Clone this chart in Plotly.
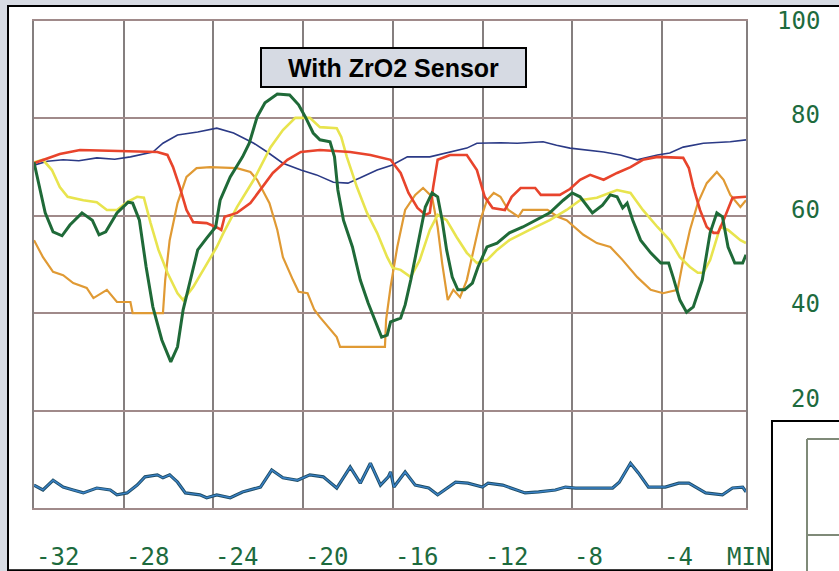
import plotly.graph_objects as go

# ---- data (minutes, percent) ----
x_ticks = [-32, -28, -24, -20, -16, -12, -8, -4]
x_tick_labels = ["-32", "-28", "-24", "-20", "-16", "-12", "-8", "-4"]
y_ticks = [100, 80, 60, 40, 20]
y_tick_labels = ["100", "80", "60", "40", "20"]

green = [(-32, 71.0), (-31.5, 60.6), (-31.15, 56.7), (-30.75, 55.9), (-30.4, 58.1), (-29.86, 60.6),
         (-29.4, 59.1), (-29.1, 56.1), (-28.8, 56.7), (-28.3, 60.6), (-27.8, 62.8), (-27.6, 62.6),
         (-27.3, 59.1), (-27.0, 49.5), (-26.7, 41.3), (-26.3, 34.5), (-25.9, 30.0), (-25.6, 33.1),
         (-25.35, 40.7), (-25.0, 47.4), (-24.7, 53.0), (-24.3, 55.4), (-23.9, 57.7), (-23.7, 63.2),
         (-23.25, 68.0), (-22.7, 72.1), (-22.4, 74.9), (-22.05, 80.3), (-21.7, 83.2), (-21.15, 85.0),
         (-20.6, 84.8), (-20.2, 82.8), (-19.9, 80.3), (-19.55, 77.0), (-19.25, 75.6), (-18.8, 75.2),
         (-18.6, 72.1), (-18.45, 65.3), (-18.2, 59.1), (-17.8, 53.6), (-17.45, 46.8), (-17.1, 42.1),
         (-16.7, 37.2), (-16.5, 35.1), (-16.25, 35.5), (-16.1, 38.2), (-15.65, 39.0), (-15.45, 41.7),
         (-15.2, 46.8), (-14.85, 55.0), (-14.55, 61.8), (-14.25, 64.7), (-14.0, 63.9), (-13.8, 59.1),
         (-13.6, 53.0), (-13.35, 47.4), (-13.1, 44.8), (-12.8, 44.8), (-12.45, 46.2), (-12.2, 49.5),
         (-11.8, 53.6), (-11.35, 54.4), (-10.8, 56.5), (-10.2, 57.7), (-9.6, 59.1), (-9.0, 60.6),
         (-8.4, 63.2), (-8.0, 64.7), (-7.65, 63.9), (-7.1, 60.6), (-6.65, 62.2), (-6.3, 64.3),
         (-6.0, 63.9), (-5.75, 61.6), (-5.55, 62.6), (-5.3, 59.1), (-4.95, 55.0), (-4.5, 52.4),
         (-4.05, 50.3), (-3.7, 50.3), (-3.5, 47.4), (-3.2, 42.7), (-2.9, 40.2), (-2.6, 41.3),
         (-2.2, 46.8), (-1.85, 56.5), (-1.55, 60.6), (-1.3, 59.8), (-1.05, 53.6), (-0.75, 50.3),
         (-0.4, 50.3), (-0.25, 52.0)]

red = [(-32, 70.8), (-31.3, 71.9), (-30.85, 72.7), (-29.95, 73.5), (-28.5, 73.3), (-26.5, 73.1),
       (-26.05, 72.5), (-25.8, 70.0), (-25.5, 65.9), (-25.2, 61.2), (-24.9, 58.7), (-24.3, 58.5),
       (-23.8, 57.5), (-23.65, 57.1), (-23.5, 59.8), (-22.95, 60.6), (-22.35, 62.6), (-21.8, 65.9),
       (-21.35, 68.8), (-20.7, 71.5), (-20.1, 73.1), (-19.25, 73.5), (-17.9, 73.1), (-17.0, 72.5),
       (-16.1, 71.5), (-15.65, 68.8), (-15.3, 64.7), (-14.9, 61.6), (-14.55, 60.2), (-14.35, 60.6),
       (-14.2, 65.9), (-14.0, 71.5), (-13.45, 72.5), (-12.7, 72.5), (-12.25, 69.4), (-11.9, 63.9),
       (-11.55, 61.6), (-11.0, 61.2), (-10.7, 63.9), (-10.3, 65.7), (-9.65, 65.7), (-9.4, 64.3),
       (-8.55, 64.3), (-8.1, 65.5), (-7.65, 67.4), (-7.2, 68.4), (-6.6, 67.4), (-6.0, 68.8),
       (-5.4, 70.0), (-4.85, 71.5), (-4.2, 72.1), (-3.05, 71.9), (-2.8, 69.8), (-2.6, 65.9),
       (-2.3, 61.2), (-2.0, 57.7), (-1.7, 56.5), (-1.5, 56.5), (-1.25, 59.1), (-0.85, 63.7),
       (-0.25, 63.9)]

navy = [(-32, 70.4), (-31.4, 71.2), (-30.7, 71.5), (-30.0, 71.3), (-29.2, 71.9), (-28.4, 71.6),
        (-27.7, 72.1), (-26.7, 73.1), (-26.25, 74.9), (-25.6, 76.6), (-24.7, 77.2), (-23.85, 78.0),
        (-23.1, 77.0), (-22.2, 74.9), (-21.6, 73.1), (-20.9, 70.8), (-20.1, 69.4), (-19.4, 68.4),
        (-18.65, 66.9), (-18.0, 66.7), (-17.45, 67.8), (-16.7, 69.4), (-16.05, 70.4), (-15.35, 72.1),
        (-14.35, 72.1), (-13.45, 73.1), (-12.7, 73.9), (-12.25, 74.9), (-11.2, 75.0), (-10.45, 74.9),
        (-9.3, 75.2), (-8.7, 74.5), (-8.1, 73.9), (-6.6, 73.1), (-5.85, 72.5), (-5.1, 71.5),
        (-4.2, 72.5), (-3.65, 72.9), (-3.05, 74.1), (-2.15, 74.9), (-0.95, 75.2), (-0.25, 75.6)]

yellow = [(-32, 71.0), (-31.6, 71.5), (-31.2, 69.4), (-30.85, 65.9), (-30.5, 63.9), (-29.8, 63.2),
          (-29.2, 62.8), (-28.75, 61.2), (-28.3, 61.2), (-27.85, 62.8), (-27.4, 63.9), (-27.1, 63.7),
          (-26.8, 58.5), (-26.45, 53.0), (-26.05, 48.3), (-25.6, 44.1), (-25.35, 42.7), (-24.9, 45.4),
          (-24.45, 48.9), (-23.85, 53.6), (-23.55, 56.5), (-22.95, 61.8), (-22.2, 67.4), (-21.45, 74.1),
          (-20.9, 77.6), (-20.35, 80.1), (-19.7, 80.1), (-19.25, 78.2), (-18.5, 78.0), (-18.3, 76.2),
          (-18.05, 72.1), (-17.6, 65.9), (-17.15, 60.6), (-16.7, 56.5), (-16.25, 51.5), (-16.0, 49.3),
          (-15.65, 48.9), (-15.2, 47.4), (-14.8, 50.9), (-14.35, 57.1), (-14.0, 60.2), (-13.6, 59.1),
          (-13.15, 55.6), (-12.7, 52.4), (-12.25, 50.3), (-11.8, 50.9), (-11.35, 53.0), (-10.8, 55.0),
          (-9.9, 57.1), (-9.0, 59.1), (-8.25, 61.2), (-7.65, 63.2), (-6.9, 63.7), (-6.0, 65.3),
          (-5.4, 64.7), (-4.85, 61.2), (-4.2, 57.7), (-3.65, 55.0), (-3.2, 51.5), (-2.75, 49.5),
          (-2.4, 48.3), (-2.15, 48.3), (-1.85, 50.9), (-1.4, 57.7), (-1.05, 57.1), (-0.5, 55.0),
          (-0.25, 54.4)]

orange = [(-32, 55.0), (-31.6, 51.5), (-31.15, 48.5), (-30.7, 47.8), (-30.25, 46.2), (-29.65, 45.2),
          (-29.35, 43.1), (-28.75, 44.8), (-28.3, 42.3), (-27.7, 42.3), (-27.6, 40.0), (-26.25, 40.0),
          (-26.15, 46.8), (-25.95, 55.0), (-25.6, 62.6), (-25.2, 68.0), (-24.75, 69.8), (-24.15, 70.0),
          (-22.95, 69.8), (-22.35, 69.0), (-22.05, 67.4), (-21.8, 65.3), (-21.5, 62.6), (-21.15, 57.1),
          (-20.9, 51.5), (-20.45, 46.8), (-20.2, 44.4), (-19.8, 44.1), (-19.5, 40.7), (-19.25, 39.2),
          (-18.9, 37.2), (-18.5, 35.1), (-18.35, 33.1), (-16.35, 33.1), (-16.3, 38.6), (-16.1, 45.4),
          (-15.8, 53.6), (-15.45, 61.2), (-15.0, 64.3), (-14.65, 65.7), (-14.25, 63.9), (-14.0, 57.7),
          (-13.8, 50.3), (-13.55, 42.7), (-13.3, 44.8), (-13.0, 43.3), (-12.7, 46.8), (-12.4, 53.0),
          (-12.1, 59.1), (-11.8, 63.2), (-11.5, 64.7), (-11.2, 63.9), (-10.85, 61.2), (-10.4, 59.8),
          (-10.2, 61.2), (-9.1, 61.2), (-8.65, 59.8), (-8.25, 59.1), (-7.5, 56.1), (-6.9, 54.4),
          (-6.3, 53.6), (-5.75, 50.9), (-5.1, 47.4), (-4.5, 44.8), (-3.95, 44.1), (-3.3, 44.8),
          (-3.05, 50.9), (-2.75, 57.1), (-2.4, 62.6), (-2.0, 66.7), (-1.55, 69.0), (-1.25, 67.4),
          (-0.95, 64.3), (-0.5, 61.8), (-0.25, 63.2)]

bottom_blue = [(-32, 4.7), (-31.6, 3.7), (-31.15, 5.7), (-30.7, 4.3), (-30.25, 3.7), (-29.8, 3.1),
               (-29.2, 4.1), (-28.6, 3.7), (-28.3, 2.7), (-27.85, 3.1), (-27.4, 4.7), (-27.05, 6.4),
               (-26.5, 6.8), (-26.25, 6.2), (-25.95, 6.8), (-25.6, 5.3), (-25.25, 3.1), (-24.6, 2.7),
               (-24.3, 2.1), (-23.85, 2.7), (-23.25, 2.1), (-22.7, 3.3), (-21.9, 4.3), (-21.4, 7.8),
               (-20.9, 6.2), (-20.25, 5.7), (-19.7, 6.8), (-19.1, 6.4), (-18.5, 4.1), (-17.9, 8.4),
               (-17.45, 5.1), (-17.0, 9.2), (-16.55, 4.7), (-16.2, 6.4), (-16.1, 7.4), (-15.95, 4.3),
               (-15.45, 7.4), (-15.0, 4.7), (-14.4, 4.1), (-14.0, 2.7), (-13.2, 5.3), (-12.65, 5.1),
               (-12.0, 4.3), (-11.75, 5.1), (-11.1, 4.7), (-10.1, 3.1), (-9.5, 3.3), (-8.75, 3.7),
               (-8.3, 4.3), (-7.85, 4.1), (-6.2, 4.1), (-5.9, 5.3), (-5.4, 9.2), (-5.05, 7.2),
               (-4.6, 4.3), (-3.85, 4.3), (-3.25, 5.1), (-2.8, 5.1), (-2.05, 3.1), (-1.3, 2.7),
               (-0.85, 4.1), (-0.4, 4.3), (-0.25, 3.3)]

title_text = "With ZrO2 Sensor"
x_unit = "MIN"

# ---- figure ----
fig = go.Figure()

def add_line(pts, color, width):
    xs = [p[0] for p in pts]
    ys = [p[1] for p in pts]
    fig.add_trace(go.Scatter(x=xs, y=ys, mode="lines",
                             line=dict(color=color, width=width),
                             showlegend=False, hoverinfo="skip"))

add_line(bottom_blue, "#1f4e66", 3.2)
add_line(bottom_blue, "#3a82c8", 1.4)
add_line(navy, "#2b3a86", 1.6)
add_line(orange, "#e09a34", 2.2)
add_line(yellow, "#e8e44e", 2.6)
add_line(red, "#e8442c", 2.6)
add_line(green, "#1f6a38", 3.0)

label_color = "#1d6b3e"
label_font = dict(family="DejaVu Sans Mono", size=24, color=label_color)

annotations = []
for v, t in zip(x_ticks, x_tick_labels):
    annotations.append(dict(x=v, y=-0.1, xref="x", yref="paper", text=t, showarrow=False,
                            xanchor="left", yanchor="middle", font=label_font))
annotations.append(dict(x=0.9705, y=-0.1, xref="paper", yref="paper", text=x_unit,
                        showarrow=False, xanchor="left", yanchor="middle", font=label_font))
for v, t in zip(y_ticks, y_tick_labels):
    annotations.append(dict(x=1.107, y=v * 0.97 + 3, xref="paper", yref="y", text=t,
                            showarrow=False, xanchor="right", yanchor="middle", font=label_font))
annotations.append(dict(x=0.505, y=0.9055, xref="paper", yref="paper",
                        text="<b>" + title_text + "</b>", showarrow=False,
                        xanchor="center", yanchor="middle",
                        font=dict(family="Liberation Sans", size=25, color="black"),
                        bgcolor="#d6dae3", bordercolor="black", borderwidth=2,
                        borderpad=0, width=263, height=37))

shapes = [
    # white panel with black frame
    dict(type="rect", xref="paper", yref="paper", x0=-0.0365, x1=1.25, y0=-0.128, y1=1.031,
         fillcolor="white", line=dict(color="black", width=2), layer="below"),
    # partially visible inset chart
    dict(type="rect", xref="paper", yref="paper", x0=1.0365, x1=1.25, y0=-0.2, y1=0.1786,
         fillcolor="white", line=dict(color="black", width=2), layer="above"),
    dict(type="line", xref="paper", yref="paper", x0=1.0857, x1=1.0857, y0=-0.2, y1=0.1417,
         line=dict(color="#7f8a78", width=2), layer="above"),
    dict(type="line", xref="paper", yref="paper", x0=1.0857, x1=1.25, y0=0.1417, y1=0.1417,
         line=dict(color="#7f8a78", width=2), layer="above"),
    dict(type="line", xref="paper", yref="paper", x0=1.0857, x1=1.25, y0=-0.0554, y1=-0.0554,
         line=dict(color="#7f8a78", width=2), layer="above"),
]

fig.update_layout(
    width=839, height=571,
    margin=dict(l=34, r=93, t=21, b=63),
    paper_bgcolor="#d7dbe3",
    plot_bgcolor="white",
    annotations=annotations,
    shapes=shapes,
    xaxis=dict(range=[-32, -0.25], tickvals=x_ticks, showticklabels=False, ticks="",
               showgrid=True, gridcolor="#857f7f", gridwidth=2, zeroline=False,
               showline=True, linecolor="#a08a8a", linewidth=2, mirror=True),
    yaxis=dict(range=[0, 100], tickvals=[0, 20, 40, 60, 80, 100], showticklabels=False, ticks="",
               showgrid=True, gridcolor="#a08a8a", gridwidth=2, zeroline=False,
               showline=True, linecolor="#857f7f", linewidth=2, mirror=True),
)

fig.write_html("out.html",
               config={"displayModeBar": False, "staticPlot": True},
               post_script="document.body.style.margin='0px';document.body.style.overflow='hidden';")
